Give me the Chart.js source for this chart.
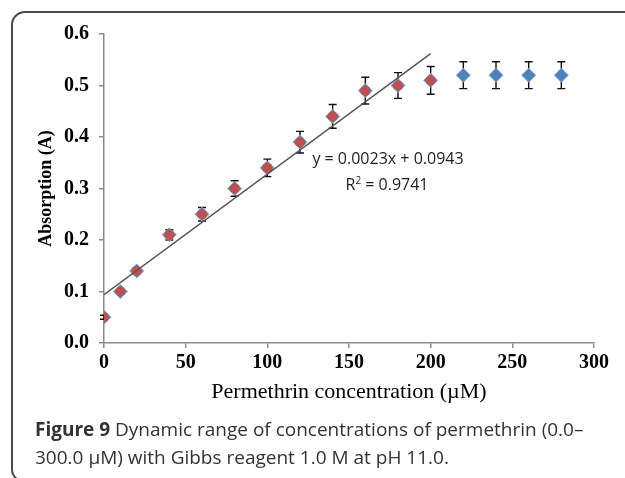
<!DOCTYPE html>
<html>
<head>
<meta charset="utf-8">
<script src="https://cdn.jsdelivr.net/npm/chart.js@4"></script>
<style>
  html, body { margin:0; padding:0; background:#fff; }
  body { width:625px; height:478px; position:relative; overflow:hidden; }
  #frame { position:absolute; left:11px; top:11px; width:640px; height:472px; border:2px solid #4a4a4a; border-radius:14px; box-sizing:border-box; }
  #wrap { position:absolute; left:0; top:0; width:625px; height:478px; }
  #caption { position:absolute; left:35px; top:415px; font-family:"Open Sans", sans-serif; font-size:19px; line-height:28px; color:#333; white-space:nowrap; }
  .eq { position:absolute; width:200px; margin-left:-100px; text-align:center; font-family:"Open Sans", sans-serif; font-size:16px; line-height:20px; color:#222; white-space:nowrap; }
</style>
</head>
<body>
<div id="frame"></div>
<div id="wrap"><canvas id="c" width="625" height="478"></canvas></div>
<div class="eq" style="left:388px; top:148px;">y = 0.0023x + 0.0943</div>
<div class="eq" style="left:387px; top:170px;">R<sup style="font-size:10px; vertical-align:6px;">2</sup> = 0.9741</div>
<div id="caption"><b>Figure 9</b> Dynamic range of concentrations of permethrin (0.0–<br>300.0 µM) with Gibbs reagent 1.0 M at pH 11.0.</div>
<script>
// ---- data ----
const concentrations = [0, 10, 20, 40, 60, 80, 100, 120, 140, 160, 180, 200, 220, 240, 260, 280];
const absorption     = [0.05, 0.10, 0.14, 0.21, 0.25, 0.30, 0.34, 0.39, 0.44, 0.49, 0.50, 0.51, 0.52, 0.52, 0.52, 0.52];
const errors         = [0.004, 0.004, 0.005, 0.010, 0.013, 0.015, 0.017, 0.021, 0.023, 0.026, 0.025, 0.027, 0.026, 0.026, 0.026, 0.026];
const linearRangeMax = 200;
const trendX = [0, 200];
const trendY = [0.094, 0.562];
const xTicks = [0, 50, 100, 150, 200, 250, 300];
const yTicks = [0.0, 0.1, 0.2, 0.3, 0.4, 0.5, 0.6];

const allPts = concentrations.map((x, i) => ({x, y: absorption[i]}));
const linPts = allPts.filter(p => p.x <= linearRangeMax);
const trendPts = trendX.map((x, i) => ({x, y: trendY[i]}));

const errorBars = {
  id: 'errorBars',
  beforeDatasetsDraw(chart) {
    const {ctx, scales: {x, y}} = chart;
    ctx.save();
    ctx.strokeStyle = '#111';
    ctx.lineWidth = 1.4;
    concentrations.forEach((cx, i) => {
      const px = x.getPixelForValue(cx);
      const top = y.getPixelForValue(absorption[i] + errors[i]);
      const bot = y.getPixelForValue(absorption[i] - errors[i]);
      ctx.beginPath();
      ctx.moveTo(px, top); ctx.lineTo(px, bot);
      ctx.moveTo(px - 4, top); ctx.lineTo(px + 4, top);
      ctx.moveTo(px - 4, bot); ctx.lineTo(px + 4, bot);
      ctx.stroke();
    });
    ctx.restore();
  }
};

const serif = "'Liberation Serif', 'Times New Roman', serif";

new Chart(document.getElementById('c'), {
  type: 'scatter',
  data: {
    datasets: [
      { label: 'trend', type: 'line', data: trendPts, borderColor: '#555', borderWidth: 1.4, pointRadius: 0, fill: false, order: 0 },
      { label: 'linear', data: linPts, pointStyle: 'circle', pointRadius: 5, backgroundColor: '#C0504D', borderColor: '#C0504D', borderWidth: 0, order: 1 },
      { label: 'all', data: allPts, pointStyle: 'rectRot', pointRadius: 7, backgroundColor: '#4F81BD', borderColor: '#7FA6D6', borderWidth: 1, order: 2 }
    ]
  },
  options: {
    responsive: false,
    animation: false,
    events: [],
    layout: { padding: { left: 0, top: 34, right: 31, bottom: 73 } },
    plugins: { legend: { display: false }, tooltip: { enabled: false } },
    scales: {
      x: {
        type: 'linear', min: 0, max: 300,
        afterBuildTicks: s => { s.ticks = xTicks.map(v => ({value: v})); },
        afterFit: s => { s.height = 62; },
        border: { color: '#8c8c8c', width: 1.5 },
        grid: { drawOnChartArea: false, drawTicks: true, tickLength: 5, color: '#8c8c8c', lineWidth: 1.5 },
        ticks: { color: '#000', padding: 3, font: { family: serif, size: 20, weight: 'bold' } },
        title: { display: true, text: 'Permethrin concentration (µM)', color: '#000', padding: 0, font: { family: serif, size: 22 } }
      },
      y: {
        type: 'linear', min: 0, max: 0.6,
        afterBuildTicks: s => { s.ticks = yTicks.map(v => ({value: v})); },
        afterFit: s => { s.width = 104; },
        border: { color: '#8c8c8c', width: 1.5 },
        grid: { drawOnChartArea: false, drawTicks: true, tickLength: 5, color: '#8c8c8c', lineWidth: 1.5 },
        ticks: { color: '#000', padding: 10, font: { family: serif, size: 20, weight: 'bold' }, callback: v => Number(v).toFixed(1) },
        title: { display: true, text: 'Absorption (A)', color: '#000', padding: { top: 36, bottom: 0 }, font: { family: serif, size: 18, weight: 'bold' } }
      }
    }
  },
  plugins: [errorBars]
});
</script>
</body>
</html>
